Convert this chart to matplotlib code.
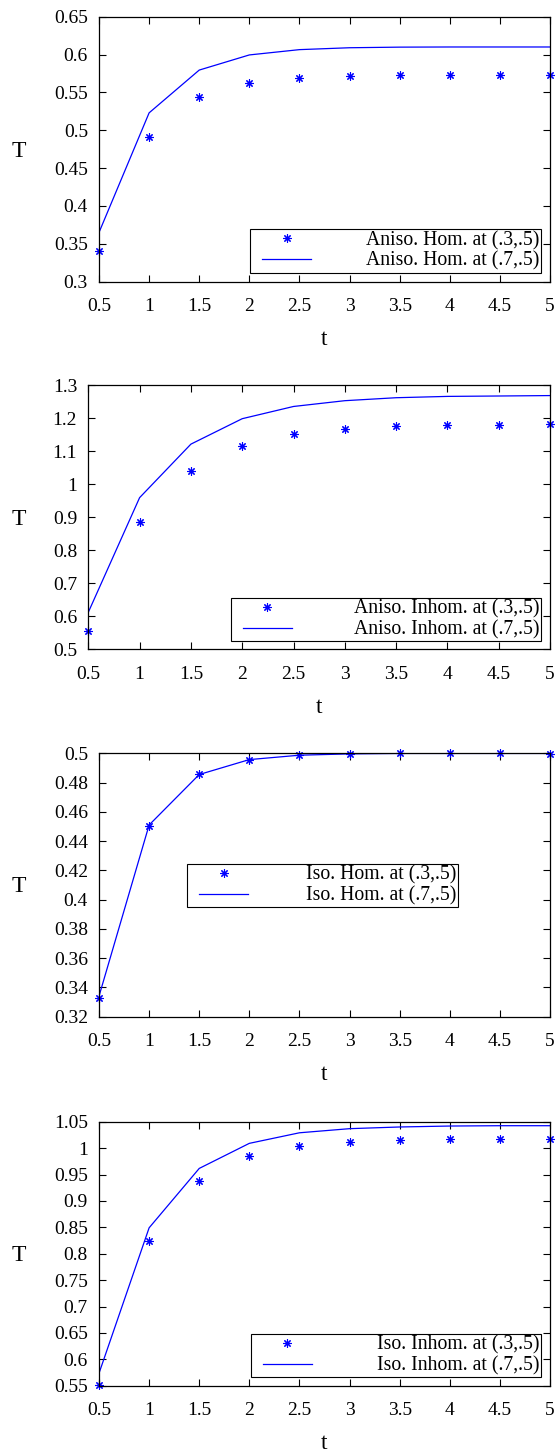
import numpy as np
import matplotlib
matplotlib.use("Agg")
import matplotlib.pyplot as plt
from matplotlib.legend_handler import HandlerLine2D

plt.rcParams['font.family'] = ['Liberation Serif', 'DejaVu Serif']

# ---------------- data ----------------
t = [0.5, 1.0, 1.5, 2.0, 2.5, 3.0, 3.5, 4.0, 4.5, 5.0]

aniso_hom_p3 = [0.340, 0.4905, 0.544, 0.563, 0.5695, 0.5715, 0.5725, 0.5725, 0.5725, 0.5725]
aniso_hom_p7 = [0.365, 0.523, 0.5795, 0.5995, 0.6065, 0.609, 0.6098, 0.610, 0.610, 0.610]

aniso_inhom_p3 = [0.5565, 0.884, 1.040, 1.115, 1.151, 1.167, 1.176, 1.178, 1.180, 1.181]
aniso_inhom_p7 = [0.612, 0.959, 1.121, 1.198, 1.235, 1.2525, 1.2615, 1.2655, 1.2667, 1.268]

iso_hom_p3 = [0.3325, 0.4506, 0.4856, 0.4957, 0.4986, 0.4995, 0.4999, 0.4999, 0.4999, 0.4996]
iso_hom_p7 = [0.3340, 0.4510, 0.4855, 0.4957, 0.4987, 0.4996, 0.4999, 0.4999, 0.4999, 0.4999]

iso_inhom_p3 = [0.551, 0.824, 0.9375, 0.985, 1.0045, 1.0115, 1.0153, 1.0166, 1.0166, 1.0166]
iso_inhom_p7 = [0.5735, 0.849, 0.9615, 1.009, 1.029, 1.0368, 1.040, 1.0418, 1.0424, 1.0424]

x_ticks = [0.5, 1.0, 1.5, 2.0, 2.5, 3.0, 3.5, 4.0, 4.5, 5.0]
x_ticklabels = ["0.5", "1", "1.5", "2", "2.5", "3", "3.5", "4", "4.5", "5"]

y1_ticks = [0.30, 0.35, 0.40, 0.45, 0.50, 0.55, 0.60, 0.65]
y1_labels = ["0.3", "0.35", "0.4", "0.45", "0.5", "0.55", "0.6", "0.65"]
y2_ticks = [0.5, 0.6, 0.7, 0.8, 0.9, 1.0, 1.1, 1.2, 1.3]
y2_labels = ["0.5", "0.6", "0.7", "0.8", "0.9", "1", "1.1", "1.2", "1.3"]
y3_ticks = [0.32, 0.34, 0.36, 0.38, 0.40, 0.42, 0.44, 0.46, 0.48, 0.50]
y3_labels = ["0.32", "0.34", "0.36", "0.38", "0.4", "0.42", "0.44", "0.46", "0.48", "0.5"]
y4_ticks = [0.55, 0.60, 0.65, 0.70, 0.75, 0.80, 0.85, 0.90, 0.95, 1.00, 1.05]
y4_labels = ["0.55", "0.6", "0.65", "0.7", "0.75", "0.8", "0.85", "0.9", "0.95", "1", "1.05"]

labels1 = ["Aniso. Hom. at (.3,.5)", "Aniso. Hom. at (.7,.5)"]
labels2 = ["Aniso. Inhom. at (.3,.5)", "Aniso. Inhom. at (.7,.5)"]
labels3 = ["Iso. Hom. at (.3,.5)", "Iso. Hom. at (.7,.5)"]
labels4 = ["Iso. Inhom. at (.3,.5)", "Iso. Inhom. at (.7,.5)"]

# ---------------- layout ----------------
W, H = 556, 1452
fig = plt.figure(figsize=(W / 100, H / 100), dpi=100)

BLUE = '#0000ff'
FS = 14
LFS = 14.2


class OffsetHandler(HandlerLine2D):
    """Line handle drawn with a small left offset inside its handle box."""
    def __init__(self, off=5.0, **kw):
        super().__init__(**kw)
        self.off = off

    def get_xdata(self, legend, xdescent, ydescent, width, height, fontsize):
        x0 = -xdescent + self.off
        x1 = -xdescent + width
        return [x0, x1], [0.5 * (x0 + x1)]


panels = [
    dict(box=(99, 550, 16.7, 281.7), p3=aniso_hom_p3, p7=aniso_hom_p7, ylim=(0.3, 0.65),
         yt=y1_ticks, yl=y1_labels, lab=labels1, anchor=(541, 272.5), tpad=55),
    dict(box=(88.3, 550, 385, 649.3), p3=aniso_inhom_p3, p7=aniso_inhom_p7, ylim=(0.5, 1.3),
         yt=y2_ticks, yl=y2_labels, lab=labels2, anchor=(541, 641), tpad=62),
    dict(box=(99, 550, 753.3, 1016.7), p3=iso_hom_p3, p7=iso_hom_p7, ylim=(0.32, 0.5),
         yt=y3_ticks, yl=y3_labels, lab=labels3, anchor=(458, 907.3), tpad=58),
    dict(box=(99, 550, 1121.7, 1385.7), p3=iso_inhom_p3, p7=iso_inhom_p7, ylim=(0.55, 1.05),
         yt=y4_ticks, yl=y4_labels, lab=labels4, anchor=(541, 1377), tpad=65),
]

PX = 72 / 100.0  # points per pixel

for p in panels:
    l, r, tp, b = p['box']
    ax = fig.add_axes([l / W, 1 - b / H, (r - l) / W, (b - tp) / H])
    ax.plot(t, p['p3'], linestyle='none', marker=(8, 2, 0), markersize=6,
            markeredgewidth=0.8, color=BLUE, clip_on=False, label=p['lab'][0])
    ax.plot(t, p['p7'], linestyle='-', linewidth=0.9, color=BLUE, label=p['lab'][1])
    ax.set_xlim(0.5, 5.0)
    ax.set_ylim(*p['ylim'])
    ax.set_xticks(x_ticks)
    ax.set_xticklabels(x_ticklabels)
    ax.set_yticks(p['yt'])
    ax.set_yticklabels(p['yl'])
    ax.tick_params(direction='in', length=5, width=0.8, top=True, right=True,
                   labelsize=FS, colors='black')
    ax.tick_params(axis='x', pad=12)
    ax.tick_params(axis='y', pad=8)
    for s in ax.spines.values():
        s.set_linewidth(0.9)
        s.set_color('black')

    aw, ah = r - l, b - tp
    ax.set_xlabel('t', fontsize=17, va='center')
    ax.xaxis.set_label_coords(0.5, -58 / ah)
    ax.set_ylabel('T', fontsize=17, rotation=0, va='center', ha='center')
    ax.yaxis.set_label_coords((19 - l) / aw, 0.5 - 2 / ah)

    ax_x = (p['anchor'][0] - l) / aw
    ax_y = (b - p['anchor'][1]) / ah
    off_px = 10
    hl_px = off_px + 49
    em = LFS / PX
    leg = ax.legend(loc='lower right', bbox_to_anchor=(ax_x, ax_y), borderaxespad=0,
                    fontsize=LFS, frameon=True, fancybox=False, framealpha=1,
                    edgecolor='black', handlelength=hl_px / em,
                    handletextpad=p['tpad'] / em, labelspacing=0.08,
                    borderpad=0.08, numpoints=1,
                    handler_map={ax.lines[1]: OffsetHandler(off=off_px * PX),
                                 ax.lines[0]: OffsetHandler(off=off_px * PX)})
    leg.get_frame().set_linewidth(0.8)

fig.savefig('out.png', dpi=100)
